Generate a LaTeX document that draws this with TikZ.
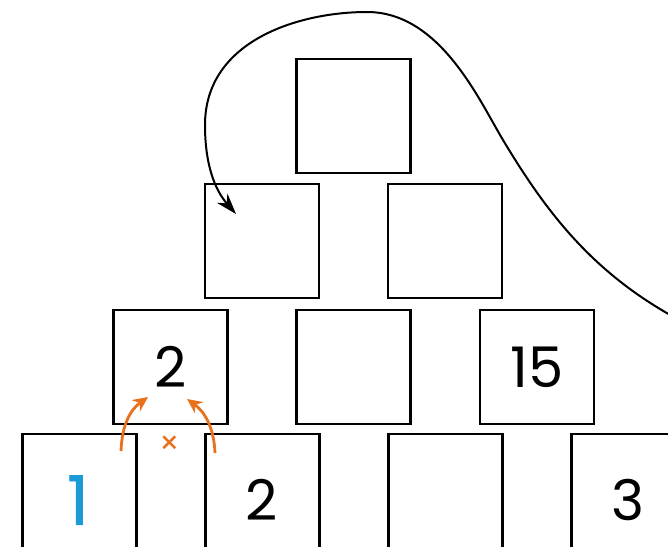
\documentclass[tikz,border=0pt]{standalone}
\usepackage{fontspec}
\setmainfont{Poppins}
\newfontfamily\onefont[FakeBold=1.2]{Poppins}
\usetikzlibrary{arrows.meta}
\definecolor{myorange}{HTML}{E8711E}
\definecolor{myblue}{HTML}{1A9AD6}
\tikzset{
  box/.style={draw=black, line width=2.2pt, minimum width=114pt, minimum height=114pt, inner sep=0pt, font=\fontsize{56}{56}\selectfont},
  bbox/.style={draw=black, line width=2.2pt, minimum width=114pt, minimum height=140pt, inner sep=0pt},
  digit/.style={font=\fontsize{56}{56}\selectfont, inner sep=0pt},
  bigcurve/.style={draw=black, line width=2pt, -{Stealth[length=21pt,width=14pt]}},
  oarrow/.style={draw=myorange, line width=2.8pt, -{Stealth[length=15pt,width=14pt]}}
}
\begin{document}
\begin{tikzpicture}[x=1pt,y=-1pt]
\useasboundingbox (0,0) rectangle (668,546);
\clip (0,0) rectangle (668,546);
\fill[white] (0,0) rectangle (668,546);
% row 1
\node[box] (t) at (353.5,116) {};
% row 2
\node[box] (m1) at (262,241) {};
\node[box] (m2) at (445,241) {};
% row 3
\node[box] (r1) at (170.5,367) {2};
\node[box] (r2) at (353.5,367) {};
\node[box] (r3) at (537,367) {15};
% row 4
\node[bbox] (b1) at (79.5,504) {};
\node[bbox] (b2) at (262.5,504) {};
\node[bbox] (b3) at (445.5,504) {};
\node[bbox] (b4) at (628.5,504) {};
\node[inner sep=0pt, text=myblue, font=\fontsize{68}{68}\onefont] (d1) at (78,500) {1};
\node[digit] (d2) at (262,500) {2};
\node[digit] (d4) at (628,500) {3};
% curve
\coordinate (cs) at (672,316);
\coordinate (c1) at (503,140);
\coordinate (c2) at (367,12);
\coordinate (c3) at (205,125);
\coordinate (ce) at (236,214);
\draw[bigcurve] (cs) .. controls (590,270) and (545,210) .. (c1)
  .. controls (479,100) and (440,12) .. (c2)
  .. controls (300,12) and (205,40) .. (c3)
  .. controls (205,165) and (215,190) .. (ce);
% orange arrows
\coordinate (oa1) at (121,451);
\coordinate (oa1e) at (148,397);
\coordinate (oa2) at (215,453);
\coordinate (oa2e) at (187,399);
\draw[oarrow] (oa1) .. controls (122,425) and (130,410) .. (oa1e);
\draw[oarrow] (oa2) .. controls (214,428) and (205,412) .. (oa2e);
\node[text=myorange, font=\fontsize{32}{32}\selectfont, inner sep=0pt] (x) at (170,445) {×};
\end{tikzpicture}
\end{document}
